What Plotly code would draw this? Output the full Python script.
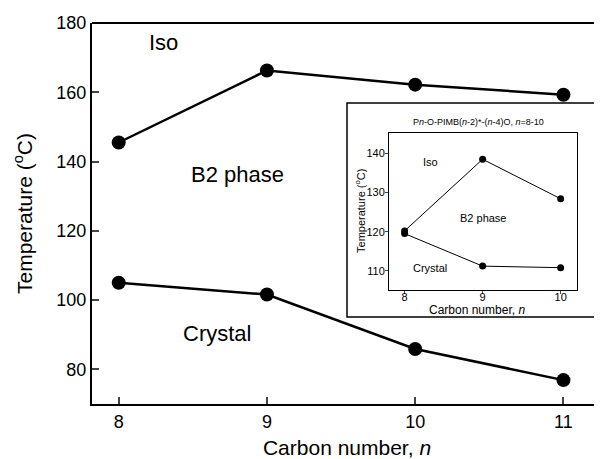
import plotly.graph_objects as go

# Main chart data
carbon = [8, 9, 10, 11]
iso_temp = [145.5, 166.3, 162.2, 159.3]
crystal_temp = [105.0, 101.6, 85.9, 76.9]
main_yticks = [80, 100, 120, 140, 160, 180]

# Inset data
inset_carbon = [8, 9, 10]
inset_iso = [120.2, 138.5, 128.4]
inset_crystal = [119.5, 111.2, 110.8]
inset_yticks = [110, 120, 130, 140]

FONT = "Liberation Sans, Arial, sans-serif"

fig = go.Figure()
fig.add_trace(go.Scatter(x=carbon, y=iso_temp, mode="lines+markers",
                         line=dict(color="black", width=2.5),
                         marker=dict(color="black", size=14), showlegend=False))
fig.add_trace(go.Scatter(x=carbon, y=crystal_temp, mode="lines+markers",
                         line=dict(color="black", width=2.5),
                         marker=dict(color="black", size=14), showlegend=False))
fig.add_trace(go.Scatter(x=inset_carbon, y=inset_iso, mode="lines+markers",
                         xaxis="x2", yaxis="y2",
                         line=dict(color="black", width=1),
                         marker=dict(color="black", size=7), showlegend=False))
fig.add_trace(go.Scatter(x=inset_carbon, y=inset_crystal, mode="lines+markers",
                         xaxis="x2", yaxis="y2",
                         line=dict(color="black", width=1),
                         marker=dict(color="black", size=7), showlegend=False))

fig.update_layout(
    width=594, height=451,
    margin=dict(l=84, r=0, t=15, b=55),
    paper_bgcolor="white", plot_bgcolor="white",
    font=dict(family=FONT, color="black"),
    xaxis=dict(range=[7.82, 11.26], tickvals=carbon, ticks="inside", ticklen=7,
               tickwidth=1.5, showline=True, linewidth=2, linecolor="black",
               showgrid=False, zeroline=False, tickfont=dict(size=18), automargin=False,
               title=dict(text="Carbon number, <i>n</i>", font=dict(size=21), standoff=15)),
    yaxis=dict(range=[70, 180], tickvals=main_yticks, ticks="inside", ticklen=7,
               tickwidth=1.5, showline=True, linewidth=2, linecolor="black",
               showgrid=False, zeroline=False, tickfont=dict(size=18), automargin=False,
               title=dict(text="Temperature (<sup>o</sup>C)", font=dict(size=21), standoff=18)),
    xaxis2=dict(domain=[0.5824, 0.951], anchor="y2", range=[7.8, 10.21],
                tickvals=inset_carbon, ticks="outside", ticklen=3, tickwidth=1,
                showline=True, mirror=True, linewidth=1, linecolor="black",
                showgrid=False, zeroline=False, tickfont=dict(size=11), automargin=False,
                ticklabelstandoff=-6),
    yaxis2=dict(domain=[0.2992, 0.7113], anchor="x2", range=[105.1, 145.2],
                tickvals=inset_yticks, ticks="outside", ticklen=3, tickwidth=1,
                showline=True, mirror=True, linewidth=1, linecolor="black",
                showgrid=False, zeroline=False, tickfont=dict(size=11), automargin=False,
                ticklabelstandoff=-2),
    shapes=[
        dict(type="line", xref="paper", yref="paper", x0=0, x1=1, y0=1, y1=1,
             line=dict(color="black", width=2)),
        dict(type="rect", xref="paper", yref="paper", x0=0.5, x1=1.05, y0=0.2283, y1=0.790,
             line=dict(color="black", width=1.5), fillcolor="rgba(0,0,0,0)", layer="above"),
    ],
    annotations=[
        dict(text="Iso", x=8.3, y=174.5, xref="x", yref="y", showarrow=False, font=dict(size=22)),
        dict(text="B2 phase", x=8.8, y=136.3, xref="x", yref="y", showarrow=False, font=dict(size=22)),
        dict(text="Crystal", x=8.66, y=90.5, xref="x", yref="y", showarrow=False, font=dict(size=22)),
        dict(text="Iso", x=8.33, y=137.7, xref="x2", yref="y2", showarrow=False, font=dict(size=11)),
        dict(text="B2 phase", x=9.0, y=123.5, xref="x2", yref="y2", showarrow=False, font=dict(size=11)),
        dict(text="Crystal", x=8.32, y=110.6, xref="x2", yref="y2", showarrow=False, font=dict(size=11)),
        dict(text="P<i>n</i>-O-PIMB(<i>n</i>-2)*-(<i>n</i>-4)O, <i>n</i>=8-10",
             x=0.757, y=0.740, xref="paper", yref="paper", xanchor="center", yanchor="middle",
             showarrow=False, font=dict(size=9)),
        dict(text="Temperature (<sup>o</sup>C)", x=0.5255, y=0.5066, xref="paper", yref="paper",
             xanchor="center", yanchor="middle", textangle=-90, showarrow=False,
             font=dict(size=11)),
        dict(text="Carbon number, <i>n</i>", x=0.755, y=0.246, xref="paper", yref="paper",
             xanchor="center", yanchor="middle", showarrow=False, font=dict(size=12)),
    ],
)

fig.write_html("out.html")
